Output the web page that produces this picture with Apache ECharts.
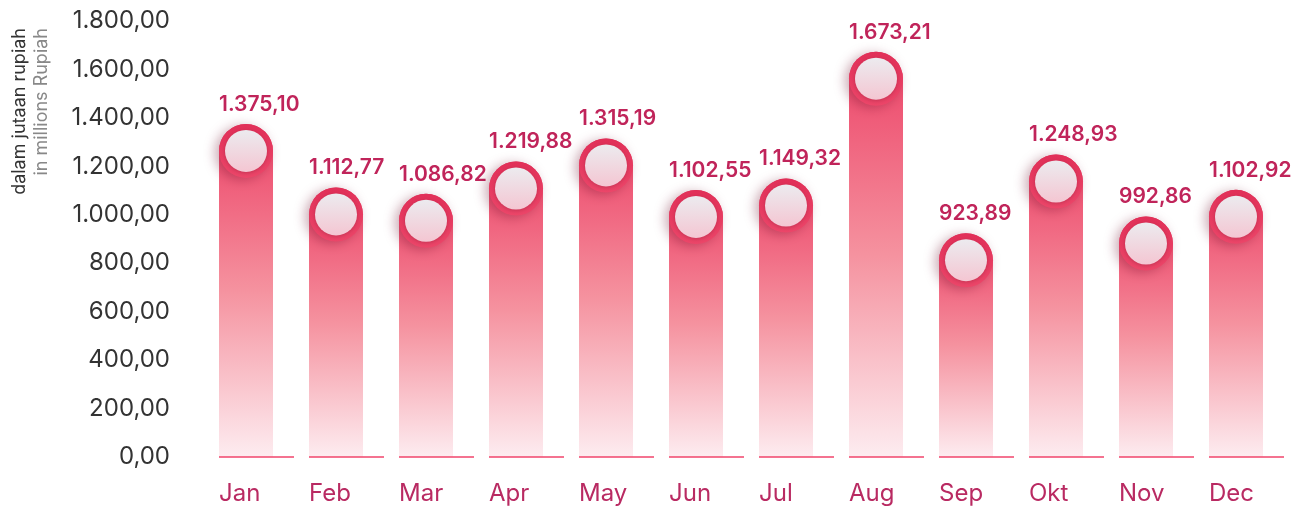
<!DOCTYPE html>
<html>
<head>
<meta charset="utf-8">
<script src="https://cdn.jsdelivr.net/npm/echarts@6/dist/echarts.min.js"></script>
<style>
  html, body { margin: 0; padding: 0; background: #fff; }
  #chart { width: 1305px; height: 509px; }
</style>
</head>
<body>
<div id="chart"></div>
<script>
const months = ["Jan", "Feb", "Mar", "Apr", "May", "Jun", "Jul", "Aug", "Sep", "Okt", "Nov", "Dec"];
const values = [1375.10, 1112.77, 1086.82, 1219.88, 1315.19, 1102.55, 1149.32, 1673.21, 923.89, 1248.93, 992.86, 1102.92];
const yMin = 0;
const yMax = 1800;
const yStep = 200;

// format like id-ID: 1.375,10
function fmt(v) {
  const parts = v.toFixed(2).split(".");
  const intPart = parts[0].replace(/\B(?=(\d{3})+(?!\d))/g, ".");
  return intPart + "," + parts[1];
}

const barW = 54;
const segW = 75;

function renderItem(params, api) {
  const idx = api.value(0);
  const val = api.value(1);
  const top = api.coord([idx, val]);
  const base = api.coord([idx, 0]);
  const x0 = top[0];
  const r = barW / 2;
  const cx = x0 + r;
  const cy = top[1] + r;
  return {
    type: "group",
    children: [
      {
        type: "rect",
        shape: { x: x0, y: top[1], width: barW, height: base[1] - top[1], r: [r, r, 0, 0] },
        style: {
          fill: new echarts.graphic.LinearGradient(0, 0, 0, 1, [
            { offset: 0, color: "#ec4166" },
            { offset: 0.5, color: "#f5929f" },
            { offset: 1, color: "#fdecf0" }
          ])
        }
      },
      {
        type: "line",
        shape: { x1: x0, y1: base[1], x2: x0 + segW, y2: base[1] },
        style: { stroke: "#f0456b", lineWidth: 1.5 }
      },
      {
        type: "circle",
        shape: { cx: cx, cy: cy, r: r },
        style: {
          fill: new echarts.graphic.LinearGradient(0, 0, 0, 1, [
            { offset: 0, color: "#e12f58" },
            { offset: 1, color: "#ec4669" }
          ]),
          shadowBlur: 12,
          shadowColor: "rgba(110,10,40,0.35)",
          shadowOffsetX: -4,
          shadowOffsetY: 2
        }
      },
      {
        type: "circle",
        shape: { cx: cx, cy: cy, r: 21 },
        style: {
          fill: new echarts.graphic.LinearGradient(0, 0, 0, 1, [
            { offset: 0, color: "#ecebef" },
            { offset: 1, color: "#f4c6d2" }
          ]),
          shadowBlur: 4,
          shadowColor: "rgba(80,0,20,0.25)",
          shadowOffsetY: 1
        }
      },
      {
        type: "text",
        style: {
          text: fmt(val),
          x: x0,
          y: top[1] - 9,
          align: "left",
          verticalAlign: "bottom",
          textAlign: "left",
          textVerticalAlign: "bottom",
          font: "600 21px Inter",
          fill: "#c0245a"
        }
      }
    ]
  };
}

var myChart = echarts.init(document.getElementById("chart"));
var option = {
  animation: false,
  grid: { left: 219, right: 96, top: 21, bottom: 52 },
  graphic: [
    {
      type: "text",
      x: 20,
      y: 28,
      rotation: Math.PI / 2,
      style: { text: "dalam jutaan rupiah", font: "18px Inter", fill: "#333", align: "right", verticalAlign: "middle" }
    },
    {
      type: "text",
      x: 42,
      y: 28,
      rotation: Math.PI / 2,
      style: { text: "in millions Rupiah", font: "18px Inter", fill: "#888", align: "right", verticalAlign: "middle" }
    }
  ],
  xAxis: {
    type: "category",
    data: months,
    boundaryGap: false,
    axisLine: { show: false },
    axisTick: { show: false },
    axisLabel: {
      align: "left",
      margin: 25,
      fontSize: 24,
      fontFamily: "Inter",
      color: "#b92a62"
    }
  },
  yAxis: {
    type: "value",
    min: yMin,
    max: yMax,
    interval: yStep,
    splitLine: { show: false },
    axisLine: { show: false },
    axisTick: { show: false },
    axisLabel: {
      margin: 49,
      fontSize: 24,
      fontFamily: "Inter",
      color: "#333",
      formatter: fmt
    }
  },
  series: [
    {
      type: "custom",
      clip: false,
      renderItem: renderItem,
      encode: { x: 0, y: 1 },
      data: values.map((v, i) => [i, v])
    }
  ]
};
myChart.setOption(option);
</script>
</body>
</html>
